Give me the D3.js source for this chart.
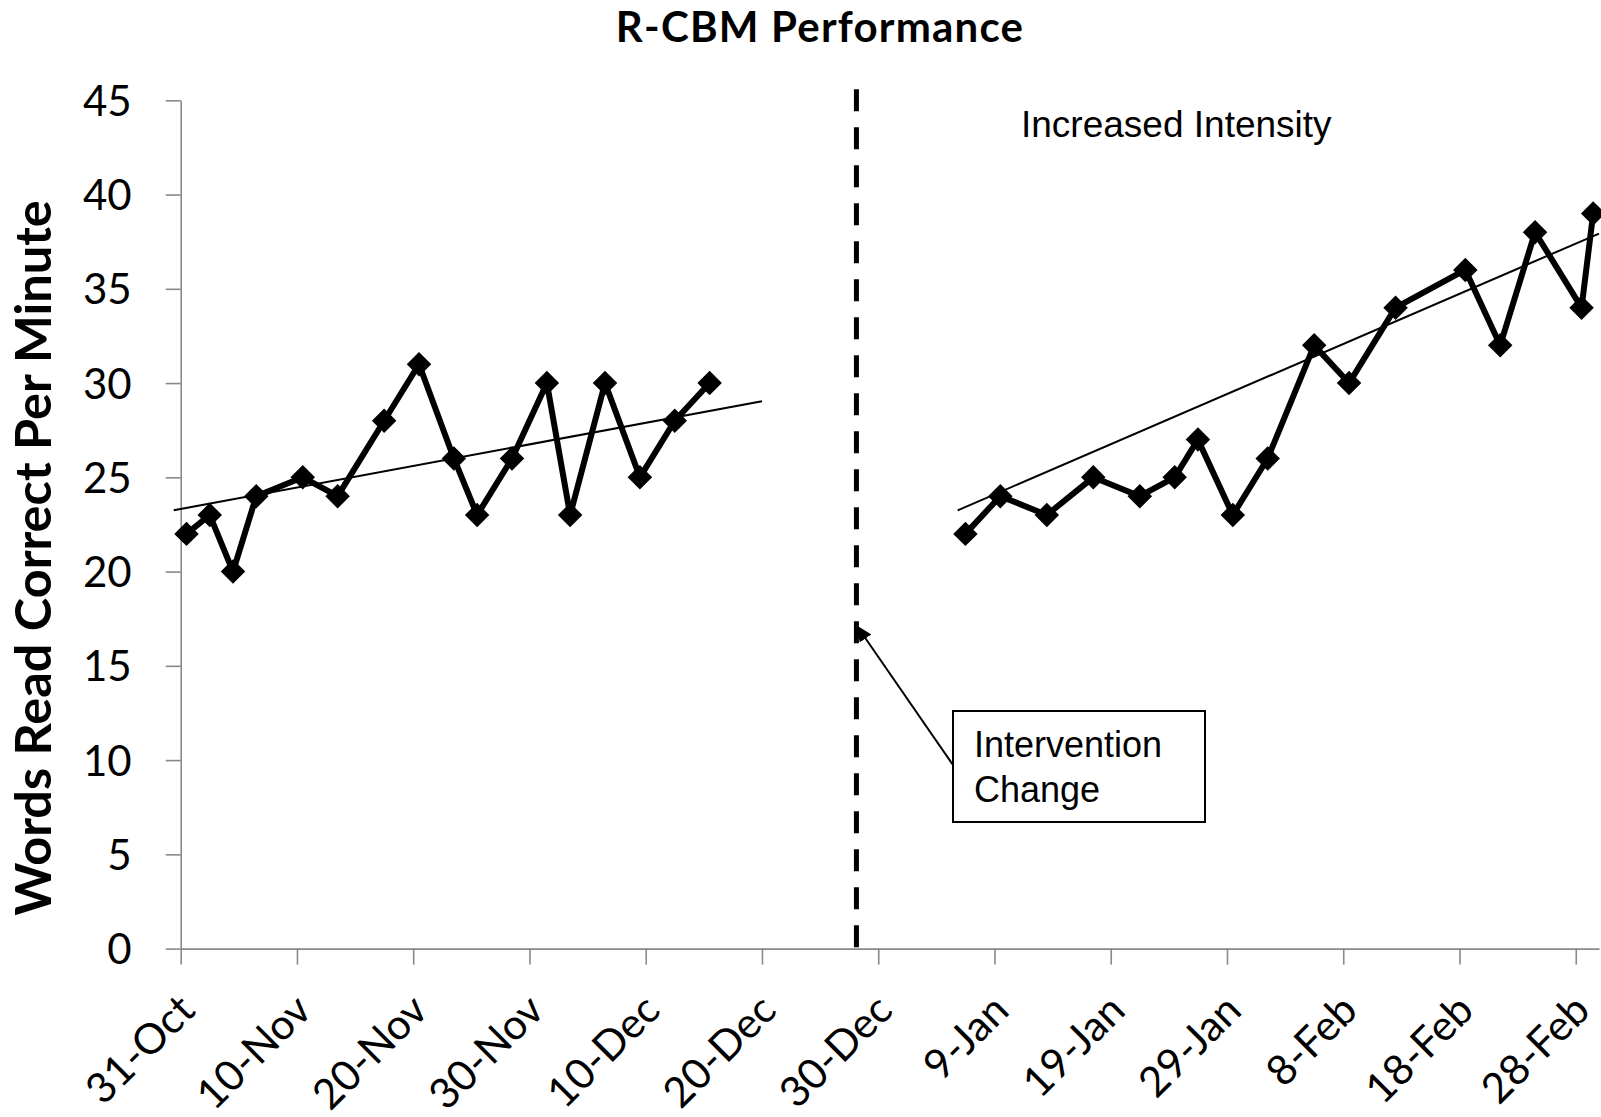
<!DOCTYPE html>
<html>
<head>
<meta charset="utf-8">
<title>R-CBM Performance</title>
<script src="https://cdn.jsdelivr.net/npm/d3@7"></script>
<style>
  html, body { margin: 0; padding: 0; background: #ffffff; }
  svg { display: block; }
</style>
</head>
<body>
<svg id="chart" width="1601" height="1117"></svg>
<script>
// ---- Data -------------------------------------------------------------
// Axis ticks (every 10 days along the date axis)
const tickDates = ['2012-10-31','2012-11-10','2012-11-20','2012-11-30','2012-12-10',
                   '2012-12-20','2012-12-30','2013-01-09','2013-01-19','2013-01-29',
                   '2013-02-08','2013-02-18','2013-02-28'];
const yTicks = [0, 5, 10, 15, 20, 25, 30, 35, 40, 45];

// Phase 1: baseline probes
const baselineDates = ['2012-10-31','2012-11-02','2012-11-04','2012-11-06','2012-11-10',
                       '2012-11-13','2012-11-17','2012-11-20','2012-11-23','2012-11-25',
                       '2012-11-28','2012-12-01','2012-12-03','2012-12-06','2012-12-09',
                       '2012-12-12','2012-12-15'];
const baselineWcpm = [22, 23, 20, 24, 25, 24, 28, 31, 26, 23, 26, 30, 23, 30, 25, 28, 30];

// Phase 2: probes after the intervention change
const interventionDates = ['2013-01-06','2013-01-09','2013-01-13','2013-01-17','2013-01-21',
                           '2013-01-24','2013-01-26','2013-01-29','2013-02-01','2013-02-05',
                           '2013-02-08','2013-02-12','2013-02-18','2013-02-21','2013-02-24',
                           '2013-02-28','2013-03-01'];
const interventionWcpm = [22, 24, 23, 25, 24, 25, 27, 23, 26, 32, 30, 34, 36, 32, 38, 34, 39];

// Linear trend lines (end points)
const baselineTrendDates = ['2012-10-30T09:30','2012-12-20T00:00'];
const baselineTrendValues = [23.25, 29.03];
const interventionTrendDates = ['2013-01-05T20:00','2013-03-02T00:00'];
const interventionTrendValues = [23.25, 37.93];

// Phase change marker
const interventionDate = '2012-12-28T03:00';
const arrowTipValue = 17.15;

const axisDomain = ['2012-10-31', '2013-03-02'];

// ---- Layout -----------------------------------------------------------
const W = 1601, H = 1117;
const plot = { left: 180.7, right: 1599, top: 100.3, bottom: 948.6 };

const parseDay = d3.timeParse('%Y-%m-%d');
const parseTime = d3.timeParse('%Y-%m-%dT%H:%M');
const toDate = s => (s.length > 10 ? parseTime(s) : parseDay(s));
// Each day occupies one slot on the date axis; probes sit in the middle of it
const slotCentre = s => d3.timeHour.offset(toDate(s), 12);

const x = d3.scaleTime().domain(axisDomain.map(toDate)).range([plot.left, plot.right]);
const y = d3.scaleLinear().domain([0, 45]).range([plot.bottom, plot.top]);

const svg = d3.select('#chart');
svg.append('rect').attr('width', W).attr('height', H).attr('fill', '#ffffff');

const axisGrey = '#898989';
const labelFont = 'Lato, "Noto Sans", sans-serif';
const noteFont = '"Liberation Sans", Arial, sans-serif';

// ---- Title ------------------------------------------------------------
svg.append('text')
  .attr('x', 820).attr('y', 42)
  .attr('text-anchor', 'middle')
  .attr('font-family', labelFont).attr('font-weight', 700).attr('font-size', 42)
  .attr('letter-spacing', 1.2)
  .attr('fill', '#000')
  .text('R-CBM Performance');

// ---- Y axis -----------------------------------------------------------
const yAxis = svg.append('g')
  .attr('transform', `translate(${plot.left},0)`)
  .call(d3.axisLeft(y).tickValues(yTicks).tickSize(15).tickSizeOuter(0).tickPadding(34));
yAxis.select('.domain').attr('stroke', axisGrey).attr('stroke-width', 1.6);
yAxis.selectAll('.tick line').attr('stroke', axisGrey).attr('stroke-width', 1.6);
yAxis.selectAll('.tick text')
  .attr('font-family', labelFont).attr('font-size', 42).attr('fill', '#000')
  .attr('dy', '0.36em');

svg.append('text')
  .attr('transform', `translate(51,558) rotate(-90)`)
  .attr('text-anchor', 'middle')
  .attr('font-family', labelFont).attr('font-weight', 700).attr('font-size', 50.5)
  .attr('fill', '#000')
  .text('Words Read Correct Per Minute');

// ---- X axis -----------------------------------------------------------
const fmt = d3.timeFormat('%-d-%b');
const xAxis = svg.append('g')
  .attr('transform', `translate(0,${plot.bottom})`)
  .call(d3.axisBottom(x).tickValues(tickDates.map(toDate)).tickFormat(fmt)
          .tickSize(16).tickSizeOuter(0));
xAxis.select('.domain').attr('stroke', axisGrey).attr('stroke-width', 1.6);
xAxis.selectAll('.tick line').attr('stroke', axisGrey).attr('stroke-width', 1.6);
xAxis.selectAll('.tick text')
  .attr('x', 0).attr('y', 0).attr('dy', 0)
  .attr('text-anchor', 'end')
  .attr('transform', 'translate(16,64) rotate(-45)')
  .attr('font-family', labelFont).attr('font-size', 42).attr('fill', '#000');

// ---- Phase change line ------------------------------------------------
const xChange = x(toDate(interventionDate));
svg.append('line')
  .attr('x1', xChange).attr('x2', xChange)
  .attr('y1', plot.top - 11).attr('y2', plot.bottom)
  .attr('stroke', '#000').attr('stroke-width', 5)
  .attr('stroke-dasharray', '22,16');

// ---- Trend lines ------------------------------------------------------
const trendLine = d3.line().x(d => x(d[0])).y(d => y(d[1]));
[[baselineTrendDates, baselineTrendValues], [interventionTrendDates, interventionTrendValues]]
  .forEach(([ds, vs]) => {
    svg.append('path')
      .datum(ds.map((s, i) => [toDate(s), vs[i]]))
      .attr('d', trendLine)
      .attr('fill', 'none').attr('stroke', '#000').attr('stroke-width', 2);
  });

// ---- Data series ------------------------------------------------------
const seriesLine = d3.line().x(d => x(d.date)).y(d => y(d.value));
const diamond = d3.symbol().type(d3.symbolSquare).size(300);

function drawSeries(dates, values) {
  const pts = dates.map((s, i) => ({ date: slotCentre(s), value: values[i] }));
  svg.append('path')
    .datum(pts)
    .attr('d', seriesLine)
    .attr('fill', 'none').attr('stroke', '#000').attr('stroke-width', 6)
    .attr('stroke-linejoin', 'round').attr('stroke-linecap', 'round');
  svg.append('g').selectAll('path')
    .data(pts)
    .join('path')
    .attr('d', diamond)
    .attr('transform', d => `translate(${x(d.date)},${y(d.value)}) rotate(45)`)
    .attr('fill', '#000');
}
drawSeries(baselineDates, baselineWcpm);
drawSeries(interventionDates, interventionWcpm);

// ---- Annotations ------------------------------------------------------
svg.append('text')
  .attr('x', 1021).attr('y', 136.5)
  .attr('font-family', noteFont).attr('font-size', 37).attr('fill', '#000')
  .text('Increased Intensity');

const defs = svg.append('defs');
defs.append('marker')
  .attr('id', 'arrowHead')
  .attr('viewBox', '0 0 16 14')
  .attr('refX', 16).attr('refY', 7)
  .attr('markerWidth', 16).attr('markerHeight', 14)
  .attr('markerUnits', 'userSpaceOnUse')
  .attr('orient', 'auto')
  .append('path').attr('d', 'M0,0 L16,7 L0,14 Z').attr('fill', '#000');

const box = { x: 953, y: 711, w: 252, h: 111 };
svg.append('line')
  .attr('x1', box.x).attr('y1', 765)
  .attr('x2', xChange).attr('y2', y(arrowTipValue))
  .attr('stroke', '#000').attr('stroke-width', 2)
  .attr('marker-end', 'url(#arrowHead)');

svg.append('rect')
  .attr('x', box.x).attr('y', box.y).attr('width', box.w).attr('height', box.h)
  .attr('fill', '#fff').attr('stroke', '#000').attr('stroke-width', 2);
const note = svg.append('text')
  .attr('font-family', noteFont).attr('font-size', 36).attr('fill', '#000');
note.append('tspan').attr('x', box.x + 21).attr('y', 757).text('Intervention');
note.append('tspan').attr('x', box.x + 21).attr('y', 802).text('Change');
</script>
</body>
</html>
